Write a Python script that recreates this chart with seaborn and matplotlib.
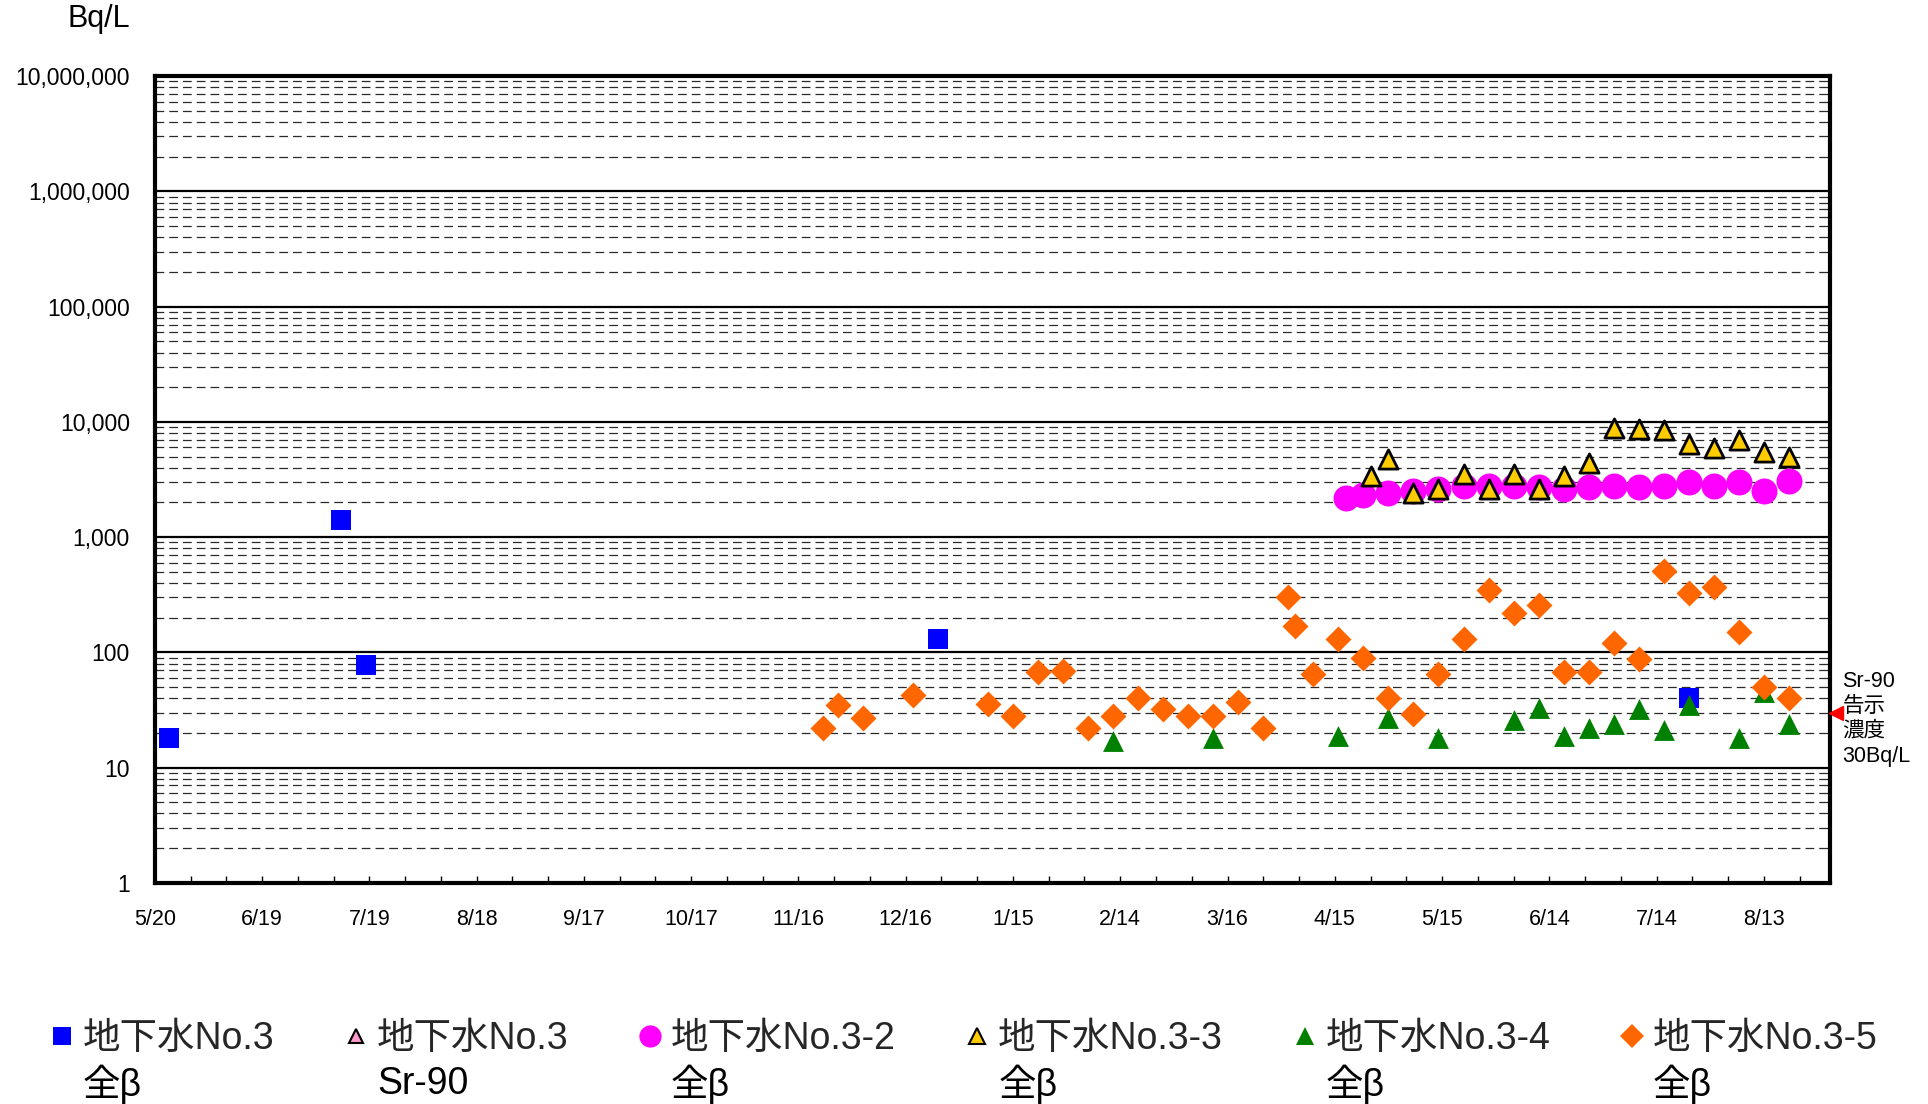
import datetime as dt
import matplotlib
matplotlib.use("Agg")
import matplotlib.pyplot as plt
import matplotlib.dates as mdates
import matplotlib.ticker as mticker
import matplotlib.transforms as mtransforms
from matplotlib.lines import Line2D
import pandas as pd
import seaborn as sns

# ---- data (Bq/L) -------------------------------------------------------
no3_dates = ["2013-05-24", "2013-07-11", "2013-07-18", "2013-12-25", "2014-07-23"]
no3_beta = [18, 1400, 77, 130, 40]

no3_sr90_dates = []
no3_sr90 = []

no32_dates = ["2014-04-18", "2014-04-23", "2014-04-30", "2014-05-07", "2014-05-14",
              "2014-05-21", "2014-05-28", "2014-06-04", "2014-06-11", "2014-06-18",
              "2014-06-25", "2014-07-02", "2014-07-09", "2014-07-16", "2014-07-23",
              "2014-07-30", "2014-08-06", "2014-08-13", "2014-08-20"]
no32_beta = [2200, 2300, 2400, 2500, 2600, 2800, 2800, 2800, 2700, 2600,
             2700, 2800, 2700, 2800, 3000, 2800, 3000, 2500, 3100]

no33_dates = ["2014-04-25", "2014-04-30", "2014-05-07", "2014-05-14", "2014-05-21",
              "2014-05-28", "2014-06-04", "2014-06-11", "2014-06-18", "2014-06-25",
              "2014-07-02", "2014-07-09", "2014-07-16", "2014-07-23", "2014-07-30",
              "2014-08-06", "2014-08-13", "2014-08-20"]
no33_beta = [3400, 4800, 2400, 2600, 3500, 2600, 3500, 2600, 3400, 4400,
             8800, 8600, 8500, 6400, 5900, 6900, 5500, 5000]

no34_dates = ["2014-02-12", "2014-03-12", "2014-04-16", "2014-04-30", "2014-05-14",
              "2014-06-04", "2014-06-11", "2014-06-18", "2014-06-25", "2014-07-02",
              "2014-07-09", "2014-07-16", "2014-07-23", "2014-08-06", "2014-08-13",
              "2014-08-20"]
no34_beta = [17, 18, 19, 27, 18, 26, 33, 19, 22, 24, 32, 21, 35, 18, 45, 24]

no35_dates = ["2013-11-23", "2013-11-27", "2013-12-04", "2013-12-18", "2014-01-08",
              "2014-01-15", "2014-01-22", "2014-01-29", "2014-02-05", "2014-02-12",
              "2014-02-19", "2014-02-26", "2014-03-05", "2014-03-12", "2014-03-19",
              "2014-03-26", "2014-04-02", "2014-04-04", "2014-04-09", "2014-04-16",
              "2014-04-23", "2014-04-30", "2014-05-07", "2014-05-14", "2014-05-21",
              "2014-05-28", "2014-06-04", "2014-06-11", "2014-06-18", "2014-06-25",
              "2014-07-02", "2014-07-09", "2014-07-16", "2014-07-23", "2014-07-30",
              "2014-08-06", "2014-08-13", "2014-08-20"]
no35_beta = [22, 35, 27, 43, 36, 28, 68, 69, 22, 28,
             40, 32, 28, 28, 37, 22, 300, 170, 65, 130,
             89, 40, 29, 65, 130, 350, 220, 260, 68, 67,
             120, 87, 510, 330, 370, 150, 50, 40]

legend_line1 = ["地下水No.3", "地下水No.3", "地下水No.3-2", "地下水No.3-3", "地下水No.3-4", "地下水No.3-5"]
legend_line2 = ["全β", "Sr-90", "全β", "全β", "全β", "全β"]

limit_value = 30
limit_label = "Sr-90\n告示\n濃度\n30Bq/L"

# ---- style --------------------------------------------------------------
sns.set_theme(style="white")
plt.rcParams["font.family"] = ["Liberation Sans", "Noto Sans CJK JP", "DejaVu Sans"]

fig = plt.figure(figsize=(19.28, 11.04), dpi=100)
ax = fig.add_axes([0.0803, 0.2003, 0.8687, 0.7307])


def draw(dates, values, **kw):
    df = pd.DataFrame({"date": pd.to_datetime(dates), "value": values})
    sns.scatterplot(data=df, x="date", y="value", ax=ax, legend=False, zorder=3, **kw)


draw(no3_dates, no3_beta, marker="s", s=222, color="#0000FF", linewidth=0)
draw(no32_dates, no32_beta, marker="o", s=350, color="#FF00FF", linewidth=0)
draw(no33_dates, no33_beta, marker="^", s=190, color="#FFCC00", edgecolor="black", linewidth=2)
draw(no34_dates, no34_beta, marker="^", s=225, color="#008000", linewidth=0)
draw(no35_dates, no35_beta, marker="D", s=175, color="#FF6600", linewidth=0)

# ---- axes ---------------------------------------------------------------
start = dt.date(2013, 5, 20)
ax.set_xlim(mdates.date2num(start), mdates.date2num(start) + 468.4)
tick_dates = [start + dt.timedelta(days=30 * i) for i in range(16)]
ax.xaxis.set_major_locator(mticker.FixedLocator(mdates.date2num(tick_dates)))
ax.xaxis.set_major_formatter(mticker.FixedFormatter([f"{d.month}/{d.day}" for d in tick_dates]))
minor_dates = [start + dt.timedelta(days=10 * i) for i in range(47)]
ax.xaxis.set_minor_locator(mticker.FixedLocator(mdates.date2num(minor_dates)))
ax.set_xlabel("")
ax.set_ylabel("")

ax.set_yscale("log")
ax.set_ylim(1, 1e7)
ax.yaxis.set_major_locator(mticker.LogLocator(base=10, numticks=12))
ax.yaxis.set_minor_locator(mticker.LogLocator(base=10, subs=range(2, 10), numticks=12))
ax.yaxis.set_major_formatter(mticker.FuncFormatter(lambda v, p: f"{v:,.0f}"))
ax.yaxis.set_minor_formatter(mticker.NullFormatter())

ax.set_axisbelow(True)
ax.grid(False)
ax.yaxis.grid(True, which="major", color="black", linewidth=1.6, linestyle="-")
ax.yaxis.grid(True, which="minor", color="#2a2a2a", linewidth=0.9, linestyle=(0, (7, 4)))

for sp in ax.spines.values():
    sp.set_color("black")
    sp.set_linewidth(3)

ax.tick_params(axis="x", which="both", direction="in", bottom=True, top=False,
               length=5, width=1, color="black", labelsize=15.5, pad=19, labelcolor="black")
ax.tick_params(axis="y", which="both", length=0, labelsize=16.5, pad=18, labelcolor="black")

fig.text(0.035, 0.983, "Bq/L", fontsize=22, ha="left", va="center", color="black")

# limit marker on the right edge
trans = mtransforms.blended_transform_factory(ax.transAxes, ax.transData)
ax.plot([1.0035], [limit_value], marker="<", color="#FF0000", markersize=10,
        linestyle="none", transform=trans, clip_on=False, zorder=5)
text_trans = mtransforms.offset_copy(trans, fig=fig, x=0, y=-4.5, units="points")
ax.text(1.0075, limit_value, limit_label, transform=text_trans, ha="left", va="center",
        fontsize=15.5, linespacing=1.25, color="black")

# ---- legend -------------------------------------------------------------
handles = [
    Line2D([], [], linestyle="none", marker="s", markersize=13, markerfacecolor="#0000FF", markeredgewidth=0),
    Line2D([], [], linestyle="none", marker="^", markersize=10, markerfacecolor="#FF99CC",
           markeredgecolor="black", markeredgewidth=1.5),
    Line2D([], [], linestyle="none", marker="o", markersize=16, markerfacecolor="#FF00FF", markeredgewidth=0),
    Line2D([], [], linestyle="none", marker="^", markersize=11, markerfacecolor="#FFCC00",
           markeredgecolor="black", markeredgewidth=1.5),
    Line2D([], [], linestyle="none", marker="^", markersize=13, markerfacecolor="#008000", markeredgewidth=0),
    Line2D([], [], linestyle="none", marker="D", markersize=12, markerfacecolor="#FF6600", markeredgewidth=0),
]
leg = fig.legend(handles, legend_line1, loc="center left", bbox_to_anchor=(0.0245, 0.0589),
                 ncol=6, frameon=False, fontsize=27, handlelength=0.8, handletextpad=0.15,
                 columnspacing=1.78, borderpad=0, borderaxespad=0)

fig.canvas.draw()
W, H = fig.bbox.width, fig.bbox.height
for txt, sub in zip(leg.get_texts(), legend_line2):
    bb = txt.get_window_extent()
    fig.text(bb.x0 / W, 0.0177, sub, fontsize=27, ha="left", va="center", color="black")

fig.savefig("out.png", dpi=100)
